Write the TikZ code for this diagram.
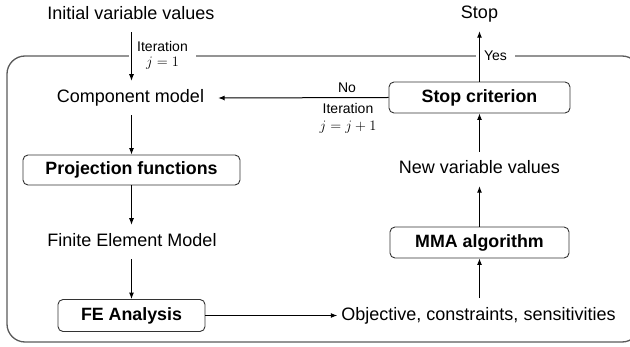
\documentclass[tikz,border=0pt]{standalone}
\usepackage{fontspec}
\setmainfont{Liberation Sans}
\usetikzlibrary{arrows.meta}
\definecolor{framegray}{HTML}{5A5A5A}
\definecolor{boxgray}{HTML}{333333}
\tikzset{
  txt/.style={font=\fontsize{18}{21}\selectfont, text height=12.9pt, text depth=3.8pt, inner ysep=8.7pt, inner xsep=4pt},
  stepbox/.style={draw=boxgray, line width=0.9pt, rounded corners=5pt, font=\fontsize{17.8}{21}\selectfont\bfseries, inner sep=0pt},
  lbl/.style={font=\fontsize{14}{16}\selectfont, align=center, inner ysep=1pt},
  arr/.style={line width=1pt, -{Latex[length=6.5pt,width=5pt]}},
  frame/.style={draw=framegray, line width=1.3pt, rounded corners=18pt}
}
\begin{document}
\begin{tikzpicture}[x=1pt,y=-1pt]
\useasboundingbox (0,0) rectangle (630,347);
% outer frame
\draw[frame] (7,56) rectangle (640,342);
% nodes
\node[txt] (init) at (131,15) {Initial variable values};
\node[txt, inner xsep=14pt] (comp) at (130.5,98) {Component model};
\node[stepbox, minimum width=217pt, minimum height=30pt] (proj) at (131.5,170) {Projection functions};
\node[txt] (fem) at (132,242) {Finite Element Model};
\node[stepbox, minimum width=147pt, minimum height=32pt] (fea) at (131.5,315.5) {FE Analysis};
\node[txt] (obj) at (478.5,315.5) {Objective, constraints, sensitivities};
\node[stepbox, minimum width=179pt, minimum height=31pt] (mma) at (479.5,242.5) {MMA algorithm};
\node[txt] (newv) at (479.5,169) {New variable values};
\node[stepbox, minimum width=181pt, minimum height=31pt] (stopc) at (479.5,97.5) {Stop criterion};
\node[txt] (stoptxt) at (479.5,14) {Stop};
% labels breaking the frame
\node[lbl, fill=white, inner xsep=8pt] (it1) at (162.5,55) {Iteration\\[-1pt]$j=1$};
\node[lbl, fill=white, inner xsep=8.5pt] (yes) at (495.5,55.5) {Yes};
\node[lbl] (no) at (347,88) {No};
\node[lbl] (it2) at (348,118) {Iteration\\[1pt]$j=j+1$};
% connectors
\draw[arr] (init.south -| proj.north) -- (comp.north -| proj.north);
\draw[arr] (comp.south -| proj.north) -- (proj.north);
\draw[arr] (proj.south) -- (fem.north -| proj.south);
\draw[arr] (fem.south -| fea.north) -- (fea.north);
\draw[arr] (fea.east) -- (obj.west);
\draw[arr] (obj.north -| mma.south) -- (mma.south);
\draw[arr] (mma.north) -- (newv.south);
\draw[arr] (newv.north) -- (stopc.south);
\draw[arr] (stopc.north) -- (stoptxt.south);
\draw[arr] (stopc.west) -- (comp.east);
\end{tikzpicture}
\end{document}
